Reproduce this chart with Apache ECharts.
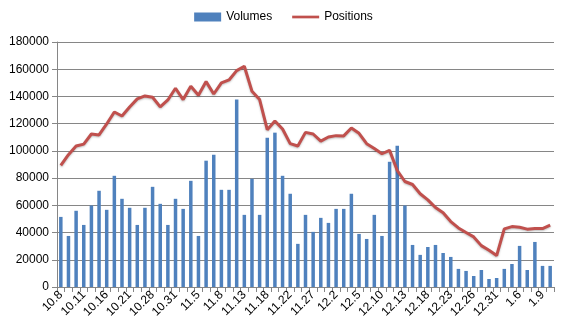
<!DOCTYPE html>
<html><head><meta charset="utf-8">
<script src="https://cdn.jsdelivr.net/npm/echarts@6/dist/echarts.min.js"></script>
<style>html,body{margin:0;padding:0;background:#fff}#c{width:567px;height:334px}</style>
</head><body><div id="c"></div>
<script>
const categories = ['10.8','10.9','10.10','10.11','10.14','10.15','10.16','10.17','10.18','10.21','10.23','10.25','10.28','10.29','10.30','10.31','11.1','11.4','11.5','11.6','11.7','11.8','11.11','11.12','11.13','11.14','11.15','11.18','11.19','11.20','11.22','11.25','11.26','11.27','11.28','11.29','12.2','12.3','12.4','12.5','12.6','12.9','12.10','12.11','12.12','12.13','12.16','12.17','12.18','12.19','12.20','12.23','12.24','12.25','12.26','12.27','12.30','12.31','1.2','1.3','1.6','1.7','1.8','1.9','1.10'];
const volumes = [51500,37500,56000,45600,59900,70700,56700,81700,64800,58200,45600,58200,73600,61100,45600,64800,57400,78000,37500,92800,97200,71400,71400,137700,53000,79500,53000,109700,113400,81700,68500,31700,53000,40500,50800,47100,57400,57400,68500,39000,35300,53000,37500,92000,103800,59900,30900,23600,29400,30900,25000,22100,13300,11800,8100,12500,5900,6600,13300,16900,30200,12500,33100,15500,15500];
const positions = [89300,97200,103600,105000,112400,111700,119800,128600,125600,132300,138200,140400,139400,132300,137400,146000,137700,147500,140900,150900,141800,149900,152100,159000,162200,143800,137700,115600,122000,116100,105300,103600,113600,112400,107200,110200,111200,111000,116800,112900,105300,101800,97900,100400,85600,77500,75300,68500,64000,58400,54500,48100,43400,40000,36800,30400,27000,23100,42700,44400,43900,42500,42900,42900,45400];

const chart = echarts.init(document.getElementById('c'), null, {renderer:'canvas'});
const font = 'Liberation Sans, Arial, sans-serif';
chart.setOption({
  animation:false,
  textStyle:{fontFamily:font},
  legend:{
    top:6, left:'center', itemGap:20, itemWidth:27, itemHeight:9,
    textStyle:{fontSize:12, color:'#000', fontFamily:font},
    data:[{name:'Volumes', icon:'rect'},{name:'Positions', icon:'path://M0,0 L30,0 L30,3 L0,3 Z'}]
  },
  grid:{left:57, right:13, top:42, bottom:47, containLabel:false},
  xAxis:{
    type:'category', data:categories, boundaryGap:true,
    axisLine:{lineStyle:{color:'#868686', width:1}},
    axisTick:{show:true, interval:0, length:5, lineStyle:{color:'#868686'}},
    axisLabel:{interval:2, rotate:45, fontSize:12, color:'#000', margin:6, fontFamily:font}
  },
  yAxis:{
    type:'value', min:0, max:180000, interval:20000,
    axisLine:{show:true, lineStyle:{color:'#868686'}},
    axisTick:{show:true, length:5, lineStyle:{color:'#868686'}},
    axisLabel:{fontSize:12, color:'#000', margin:8, fontFamily:font, formatter:function(v){return String(v);}},
    splitLine:{lineStyle:{color:'#868686', width:1}}
  },
  series:[
    {name:'Volumes', type:'bar', data:volumes, barWidth:3.5, itemStyle:{color:'#4F81BD'}},
    {name:'Positions', type:'line', data:positions, showSymbol:false, symbol:'none',
     lineStyle:{color:'#C0504D', width:3, shadowColor:'rgba(0,0,0,0.25)', shadowBlur:2, shadowOffsetY:1},
     itemStyle:{color:'#C0504D'}}
  ]
});
</script></body></html>
